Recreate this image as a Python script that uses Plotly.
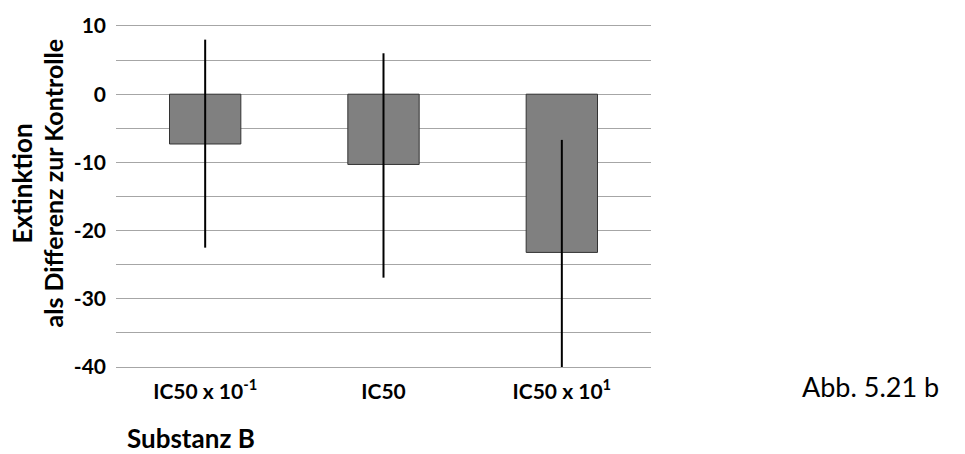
import plotly.graph_objects as go

# Data: mean difference in extinction vs. control, with spread
categories = ["IC50 x 10<sup>-1</sup>", "IC50", "IC50 x 10<sup>1</sup>"]
means = [-7.3, -10.3, -23.2]
err_plus = [15.3, 16.3, 16.5]
err_minus = [15.2, 16.6, 16.9]

y_tickvals = [10, 5, 0, -5, -10, -15, -20, -25, -30, -35, -40]
y_ticktext = ["10", "", "0", "", "-10", "", "-20", "", "-30", "", "-40"]

W, H = 965, 454
L, R, T, B = 116, 314, 26, 87
PW, PH = W - L - R, H - T - B

def px(x):
    return (x - L) / PW

def py(y):
    return (H - B - y) / PH

FONT = "Lato"
GRID = "#a6a6a6"

fig = go.Figure()
fig.add_trace(go.Bar(
    x=categories,
    y=means,
    marker=dict(color="#808080", line=dict(color="#333333", width=1)),
    error_y=dict(
        type="data", symmetric=False,
        array=err_plus, arrayminus=err_minus,
        color="#000000", thickness=2, width=0,
    ),
    width=0.4,
))

fig.update_layout(
    width=W, height=H,
    margin=dict(l=L, r=R, t=T, b=B, pad=0),
    paper_bgcolor="white", plot_bgcolor="white",
    showlegend=False,
    xaxis=dict(
        showgrid=False, zeroline=False, ticks="",
        # top and bottom frame lines double as the 10 / -40 gridlines
        showline=True, mirror=True, linecolor=GRID, linewidth=1,
        tickfont=dict(family=FONT, size=21, color="#000000", weight=700),
        ticklabelstandoff=6,
    ),
    yaxis=dict(
        range=[-40, 10], tickmode="array",
        tickvals=y_tickvals, ticktext=y_ticktext,
        showgrid=True, gridcolor=GRID, gridwidth=1,
        zeroline=False, showline=False, ticks="",
        tickfont=dict(family=FONT, size=21, color="#000000", weight=700),
        ticklabelstandoff=9,
    ),
    annotations=[
        dict(text="Extinktion", xref="paper", yref="paper",
             x=px(21), y=py(183.5), showarrow=False, textangle=-90,
             xanchor="center", yanchor="middle",
             font=dict(family=FONT, size=26, color="#000000", weight=700)),
        dict(text="als Differenz zur Kontrolle", xref="paper", yref="paper",
             x=px(52), y=py(183.5), showarrow=False, textangle=-90,
             xanchor="center", yanchor="middle",
             font=dict(family=FONT, size=25, color="#000000", weight=700)),
        dict(text="Substanz B", xref="paper", yref="paper",
             x=px(125), y=py(438), showarrow=False,
             xanchor="left", yanchor="middle",
             font=dict(family=FONT, size=26, color="#000000", weight=700)),
        dict(text="Abb. 5.21 b", xref="paper", yref="paper",
             x=px(800), y=py(386), showarrow=False,
             xanchor="left", yanchor="middle",
             font=dict(family=FONT, size=27, color="#000000")),
    ],
)

fig.write_html("out.html")
